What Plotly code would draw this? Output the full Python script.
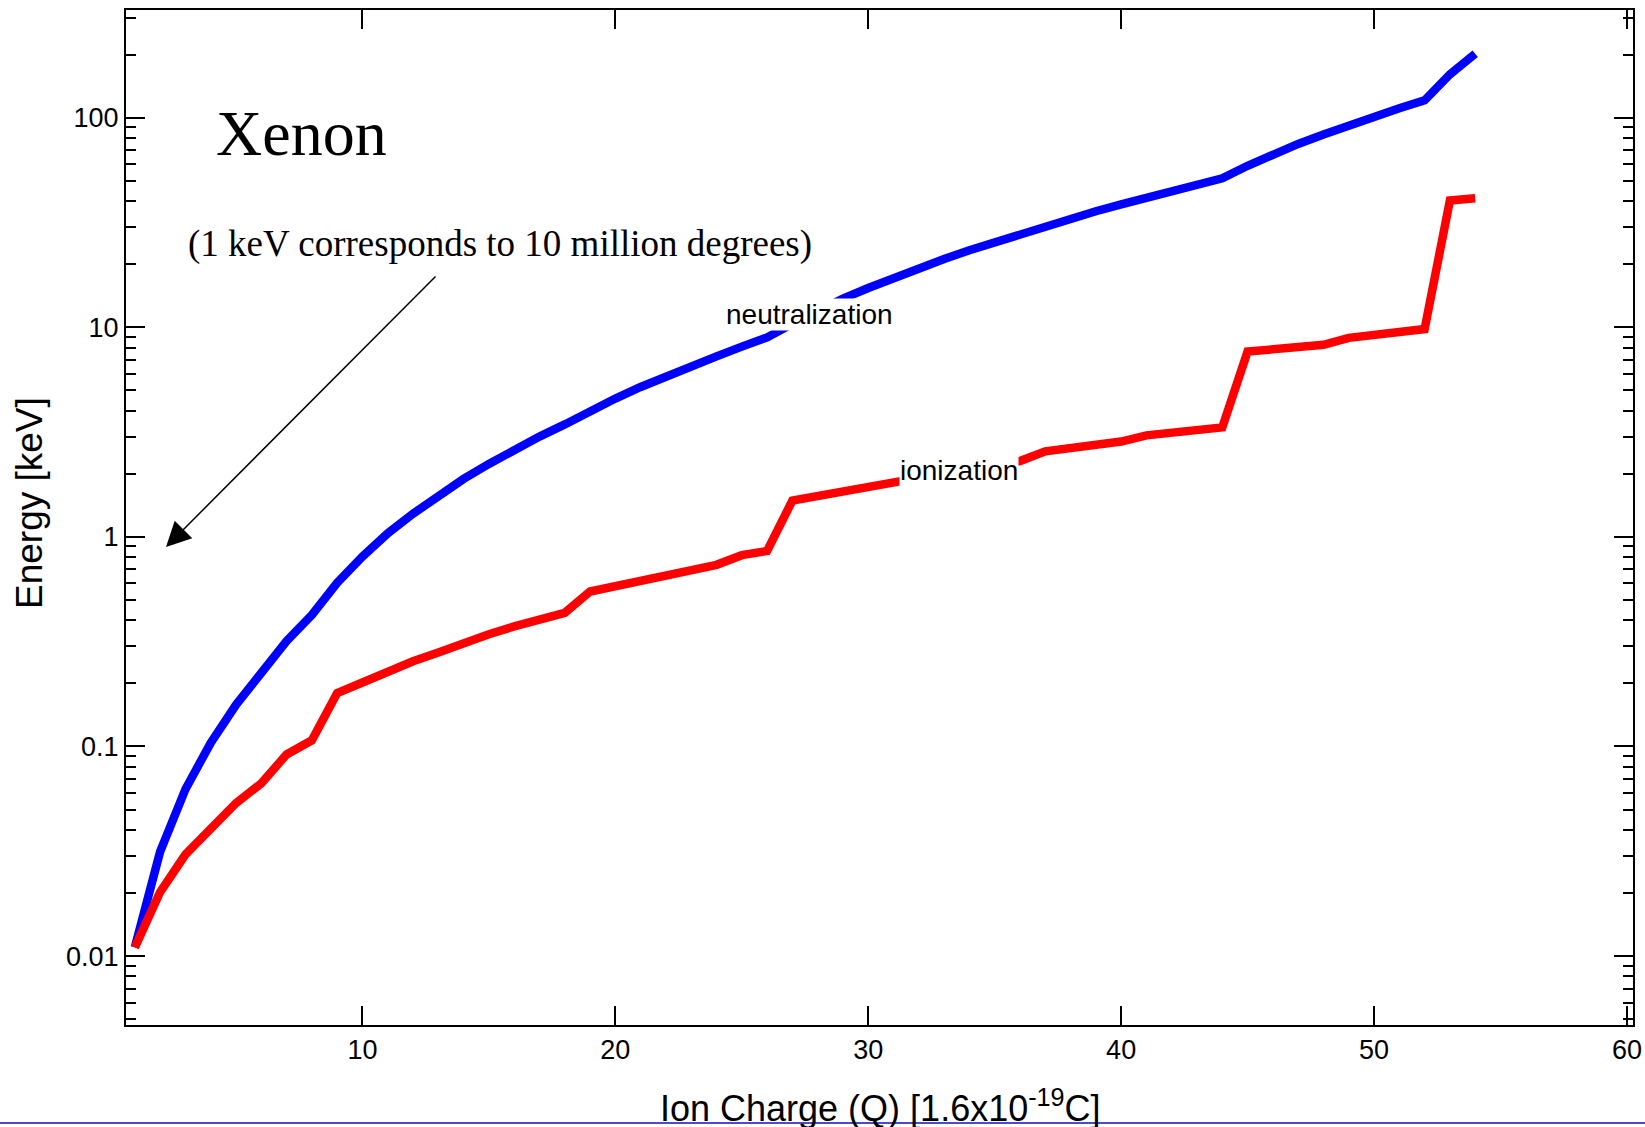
import plotly.graph_objects as go

# Ion charge (number of electrons removed)
charge = list(range(1, 55))

# Energy to reach charge state by ionization (keV)
ionization = [0.0110, 0.0202, 0.0305, 0.0410, 0.0537, 0.0667, 0.0916, 0.107, 0.180, 0.202,
              0.229, 0.255, 0.281, 0.314, 0.343, 0.374, 0.404, 0.434, 0.549, 0.582,
              0.616, 0.650, 0.700, 0.736, 0.818, 0.857, 1.49, 1.57, 1.65, 1.74,
              1.83, 1.92, 2.02, 2.11, 2.21, 2.30, 2.56, 2.65, 2.76, 2.85,
              3.05, 3.14, 3.24, 3.33, 7.66, 7.89, 8.06, 8.25, 8.91, 9.15,
              9.60, 9.81, 40.3, 41.3]

# Energy released on neutralization (keV)
neutralization = [0.0110, 0.0315, 0.0625, 0.104, 0.158, 0.225, 0.318, 0.424, 0.604, 0.806,
                  1.04, 1.29, 1.57, 1.89, 2.23, 2.60, 3.01, 3.44, 3.99, 4.57,
                  5.19, 5.84, 6.54, 7.27, 8.09, 8.95, 10.4, 12.0, 13.7, 15.4,
                  17.2, 19.2, 21.2, 23.3, 25.5, 27.8, 30.4, 33.0, 35.8, 38.6,
                  41.7, 44.8, 48.0, 51.4, 59.0, 66.9, 75.0, 83.2, 92.1, 101,
                  111, 121, 161, 202]

x_ticks = [10, 20, 30, 40, 50, 60]
y_tickvals = [0.01, 0.1, 1, 10, 100]
y_ticktext = ["0.01", "0.1", "1", "10", "100"]

SANS = "Liberation Sans, Arial, sans-serif"
SERIF = "Liberation Serif, Times New Roman, serif"

W, H = 1645, 1127
# plot frame in page pixels
P_L, P_R, P_T, P_B = 126, 1633, 10, 1025
L, T = P_L, P_T
R, B = W - P_R, H - P_B
PW, PH = P_R - P_L, P_B - P_T


def px(xp):
    return (xp - P_L) / PW


def py(yp):
    return (P_B - yp) / PH


fig = go.Figure()
fig.add_trace(go.Scatter(x=charge, y=neutralization, mode="lines",
                         line=dict(color="#0000FF", width=8.5), showlegend=False))
fig.add_trace(go.Scatter(x=charge, y=ionization, mode="lines",
                         line=dict(color="#FF0000", width=8.5), showlegend=False))

fig.update_layout(
    width=W, height=H, autosize=False,
    margin=dict(l=L, r=R, t=T, b=B, pad=0, autoexpand=False),
    paper_bgcolor="white", plot_bgcolor="white",
    font=dict(family=SANS, color="black", size=27),
    showlegend=False,
)

fig.update_xaxes(
    range=[0.65, 60.24], tickvals=x_ticks, ticktext=[str(v) for v in x_ticks],
    showgrid=False, zeroline=False, showline=True, linecolor="black", linewidth=2,
    mirror="allticks", ticks="inside", ticklen=19, tickwidth=2, tickcolor="black",
    tickfont=dict(family=SANS, size=27, color="black"), automargin=False,
)
fig.update_yaxes(
    type="log", range=[-2.329, 2.514], tickvals=y_tickvals, ticktext=y_ticktext,
    showgrid=False, zeroline=False, showline=True, linecolor="black", linewidth=2,
    mirror="allticks", ticks="inside", ticklen=19, tickwidth=2, tickcolor="black",
    tickfont=dict(family=SANS, size=27, color="black"), automargin=False,
    minor=dict(ticks="inside", ticklen=10, tickwidth=2, tickcolor="black",
               dtick="D1", showgrid=False),
)

annotations = [
    dict(text="Xenon", x=px(301), y=py(133), font=dict(family=SERIF, size=64)),
    dict(text="(1 keV corresponds to 10 million degrees)", x=px(500), y=py(244),
         font=dict(family=SERIF, size=37)),
    dict(text="neutralization", x=px(809), y=py(314), font=dict(family=SANS, size=28),
         bgcolor="white", borderpad=0),
    dict(text="ionization", x=px(959), y=py(470), font=dict(family=SANS, size=28),
         bgcolor="white", borderpad=0),
    dict(text="Ion Charge (Q) [1.6x10<sup>-19</sup>C]", x=px(880), y=py(1106),
         font=dict(family=SANS, size=36)),
    dict(text="Energy [keV]", x=px(29), y=py(503), textangle=-90,
         font=dict(family=SANS, size=37)),
    dict(text="", x=px(166), y=py(547), ax=437 - 166, ay=275 - 547,
         showarrow=True, arrowhead=2, arrowsize=3.3, arrowwidth=1.5, arrowcolor="black"),
]
for a in annotations:
    a.setdefault("showarrow", False)
    a.update(xref="paper", yref="paper", xanchor="center", yanchor="middle")
    fig.add_annotation(**a)

fig.add_shape(type="line", xref="paper", yref="paper",
              x0=px(0), x1=px(W), y0=py(1123), y1=py(1123),
              line=dict(color="#4a4ad8", width=2))

fig.write_html(
    "out.html",
    config={"displayModeBar": False, "responsive": False},
    post_script="document.documentElement.style.overflow='hidden';"
                "document.body.style.margin='0';document.body.style.overflow='hidden';",
)
